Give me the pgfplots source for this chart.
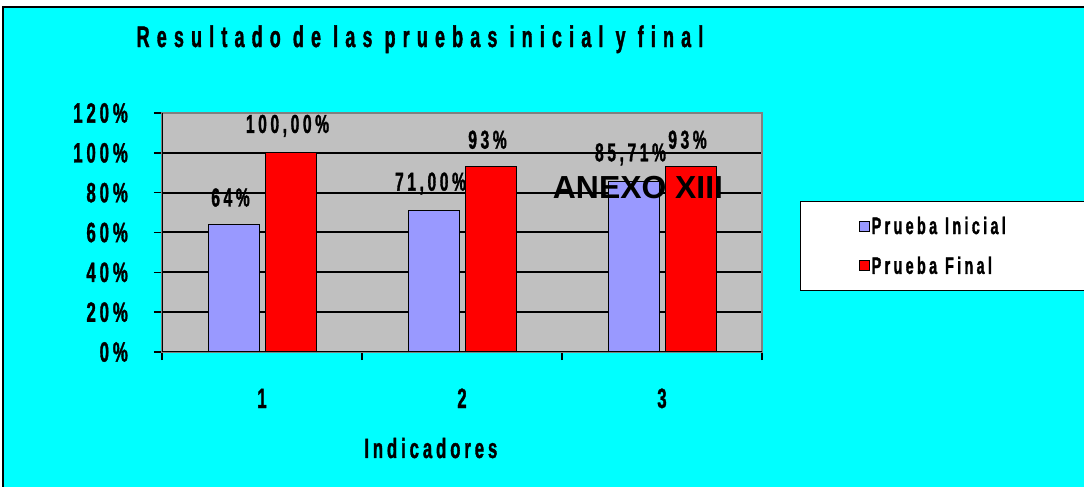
\documentclass[border=0pt]{standalone}
\usepackage{fontspec}
\setmainfont{Liberation Sans}
\newfontfamily\cond[FakeStretch=0.6,LetterSpace=14,FakeBold=1.2]{Liberation Sans}
\newfontfamily\condt[FakeStretch=0.6,LetterSpace=24,FakeBold=1.2]{Liberation Sans}
\usepackage{pgfplots}
\pgfplotsset{compat=1.18}
\definecolor{bgcyan}{HTML}{00FFFF}
\definecolor{plotgray}{HTML}{C0C0C0}
\definecolor{purp}{HTML}{9999FF}
\definecolor{edgegray}{HTML}{808080}
\begin{document}
\begin{tikzpicture}
\useasboundingbox (0bp,0bp) rectangle (1084bp,487bp);
\fill[white] (0bp,0bp) rectangle (1084bp,487bp);
\draw[line width=2bp, fill=bgcyan] (3bp,-10bp) rectangle (1100bp,480bp);
\begin{axis}[
    at={(162bp,135bp)}, anchor=south west,
    scale only axis, width=600bp, height=239bp,
    ybar=6bp, bar width=51bp,
    xmin=0.5, xmax=3.5, ymin=0, ymax=120,
    ytick={0,20,...,120},
    yticklabels={0\%,20\%,40\%,60\%,80\%,100\%,120\%},
    xtick={0.5,1.5,2.5,3.5}, xticklabels={},
    extra x ticks={1,2,3}, extra x tick labels={1,2,3},
    extra x tick style={major tick length=0pt, grid=none},
    tick align=outside, tick pos=left,
    major tick length=8bp,
    tick style={black, line width=1.5bp},
    ymajorgrids, grid style={black, line width=2bp},
    axis background/.style={fill=plotgray},
    axis line style={draw=edgegray, line width=1.5bp},
    yticklabel style={font=\cond\bfseries\fontsize{28}{28}\selectfont, anchor=east, inner sep=0pt, xshift=-26bp},
    xticklabel style={font=\cond\bfseries\fontsize{28}{28}\selectfont, anchor=base, inner sep=0pt, yshift=-56bp},
    nodes near coords, point meta=explicit symbolic,
    every node near coord/.append style={font=\cond\bfseries\fontsize{26}{26}\selectfont, anchor=center, yshift=27bp, xshift=-3bp, inner sep=0pt},
    title={Resultado de las pruebas inicial y final},
    title style={at={(0.43,1.251)}, anchor=base, inner sep=0pt, font=\condt\bfseries\fontsize{30}{30}\selectfont},
    xlabel={Indicadores},
    xlabel style={at={(0.448,-0.4435)}, anchor=base, inner sep=0pt, font=\cond\bfseries\fontsize{28}{28}\selectfont},
    legend style={at={(1.0633,0.6318)}, anchor=north west, draw=black, line width=1.5bp, fill=white,
        font=\cond\bfseries\fontsize{24}{24}\selectfont, inner xsep=58bp, inner ysep=13bp, row sep=17bp,
        /tikz/every even column/.append style={text width=165bp, align=left}},
    legend cell align=left,
    legend image code/.code={\draw[#1, line width=1bp] (0bp,-5bp) rectangle (10bp,5bp);},
]
\addplot[fill=purp, draw=black, line width=1bp] coordinates {(1,64) [64\%] (2,71) [71,00\%] (3,85.71) [85,71\%]};
\addplot[fill=red, draw=black, line width=1bp] coordinates {(1,100) [100,00\%] (2,93) [93\%] (3,93) [93\%]};
\legend{Prueba Inicial, Prueba Final}
\draw[edgegray, line width=1.5bp] (rel axis cs:0,1) -- (rel axis cs:1,1) -- (rel axis cs:1,0);
\draw[black, line width=2bp] (rel axis cs:0,1) -- (rel axis cs:0,0) -- (rel axis cs:1,0);
\end{axis}
\node[font=\bfseries\fontsize{32}{32}\selectfont, inner sep=0pt] at (638bp,299bp) {ANEXO XIII};
\end{tikzpicture}
\end{document}
